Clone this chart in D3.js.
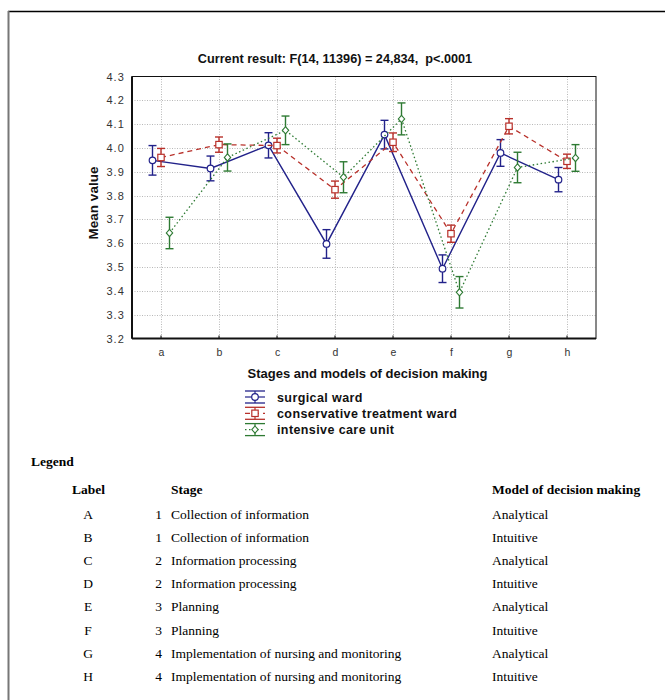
<!DOCTYPE html>
<html>
<head>
<meta charset="utf-8">
<script src="https://cdn.jsdelivr.net/npm/d3@7"></script>
<style>
  html, body { margin: 0; padding: 0; background: #fff; }
  svg { display: block; }
</style>
</head>
<body>
<svg id="chart" width="665" height="700"></svg>
<script>
// ---- data ----
const categories = ['a', 'b', 'c', 'd', 'e', 'f', 'g', 'h'];
const yTicks = [3.2, 3.3, 3.4, 3.5, 3.6, 3.7, 3.8, 3.9, 4.0, 4.1, 4.2, 4.3];
const surgical = [3.948, 3.914, 4.011, 3.597, 4.056, 3.493, 3.979, 3.867];
const surgicalErr = [0.062, 0.052, 0.053, 0.060, 0.060, 0.058, 0.056, 0.051];
const conservative = [3.960, 4.014, 4.010, 3.825, 4.024, 3.640, 4.091, 3.944];
const conservativeErr = [0.038, 0.032, 0.031, 0.036, 0.039, 0.036, 0.032, 0.030];
const icu = [3.643, 3.960, 4.074, 3.877, 4.122, 3.394, 3.918, 3.958];
const icuErr = [0.066, 0.057, 0.060, 0.065, 0.067, 0.066, 0.064, 0.056];
const seriesNames = ['surgical ward', 'conservative treatment ward', 'intensive care unit'];

const tableLabels = ['A', 'B', 'C', 'D', 'E', 'F', 'G', 'H'];
const tableStageNo = ['1', '1', '2', '2', '3', '3', '4', '4'];
const tableStage = ['Collection of information', 'Collection of information',
  'Information processing', 'Information processing', 'Planning', 'Planning',
  'Implementation of nursing and monitoring', 'Implementation of nursing and monitoring'];
const tableModel = ['Analytical', 'Intuitive', 'Analytical', 'Intuitive',
  'Analytical', 'Intuitive', 'Analytical', 'Intuitive'];

// ---- setup ----
const svg = d3.select('#chart');
const sans = 'Arial, "Liberation Sans", Helvetica, sans-serif';
const serif = '"Times New Roman", "Liberation Serif", Times, serif';

// page frame
svg.append('line').attr('x1', 8).attr('x2', 665).attr('y1', 11.5).attr('y2', 11.5)
  .attr('stroke', '#000').attr('stroke-width', 1.5);
svg.append('line').attr('x1', 8.5).attr('x2', 8.5).attr('y1', 11).attr('y2', 700)
  .attr('stroke', '#777').attr('stroke-width', 2);

const plot = { left: 132, right: 596, top: 76.5, bottom: 338.5 };
const x = d3.scalePoint().domain(categories).range([plot.left, plot.right]).padding(0.5);
const y = d3.scaleLinear().domain([3.2, 4.3]).range([plot.bottom, plot.top]);

// grid
const grid = svg.append('g');
grid.selectAll('line.h').data(yTicks.slice(1, -1)).join('line')
  .attr('x1', plot.left).attr('x2', plot.right)
  .attr('y1', d => Math.round(y(d)) + 0.5).attr('y2', d => Math.round(y(d)) + 0.5)
  .attr('stroke', '#b8b8b8').attr('stroke-width', 1).attr('stroke-dasharray', '1,1.5');
grid.selectAll('line.v').data(categories).join('line')
  .attr('x1', d => Math.round(x(d)) + 0.5).attr('x2', d => Math.round(x(d)) + 0.5)
  .attr('y1', plot.top).attr('y2', plot.bottom)
  .attr('stroke', '#b8b8b8').attr('stroke-width', 1).attr('stroke-dasharray', '1,1.5');

// axes
const yAxis = d3.axisLeft(y).tickValues(yTicks).tickFormat(d3.format('.1f')).tickSize(0).tickPadding(7);
const gy = svg.append('g').attr('transform', `translate(${plot.left},0)`).call(yAxis);
gy.select('.domain').remove();
gy.selectAll('text').attr('font-family', sans).attr('font-size', 11).attr('letter-spacing', 1.1).attr('fill', '#333');

const xAxis = d3.axisBottom(x).tickSize(0).tickPadding(10);
const gx = svg.append('g').attr('transform', `translate(0,${plot.bottom})`).call(xAxis);
gx.select('.domain').remove();
gx.selectAll('text').attr('font-family', sans).attr('font-size', 10.5).attr('fill', '#333');

// small ticks inside
svg.append('g').selectAll('line').data(categories).join('line')
  .attr('x1', d => x(d)).attr('x2', d => x(d))
  .attr('y1', plot.bottom).attr('y2', plot.bottom - 3)
  .attr('stroke', '#000');

// plot border
svg.append('rect').attr('x', plot.left).attr('y', plot.top)
  .attr('width', plot.right - plot.left).attr('height', plot.bottom - plot.top)
  .attr('fill', 'none').attr('stroke', '#111').attr('stroke-width', 1);
svg.append('line').attr('x1', plot.left).attr('x2', plot.left).attr('y1', plot.top).attr('y2', plot.bottom)
  .attr('stroke', '#111').attr('stroke-width', 2);
svg.append('line').attr('x1', plot.left).attr('x2', plot.right).attr('y1', plot.bottom).attr('y2', plot.bottom)
  .attr('stroke', '#111').attr('stroke-width', 2);

// series
const series = [
  { name: seriesNames[0], values: surgical, err: surgicalErr, color: '#22228a', dash: null, marker: 'circle', off: -8.5, width: 1.4 },
  { name: seriesNames[1], values: conservative, err: conservativeErr, color: '#b8302a', dash: '5,4', marker: 'square', off: 0, width: 1.3 },
  { name: seriesNames[2], values: icu, err: icuErr, color: '#2e7a33', dash: '1.5,2.5', marker: 'diamond', off: 8.5, width: 1.3 }
];

function drawMarker(g, type, cx, cy, color) {
  if (type === 'circle') {
    g.append('circle').attr('cx', cx).attr('cy', cy).attr('r', 3.3)
      .attr('fill', '#fff').attr('stroke', color).attr('stroke-width', 1.2);
  } else if (type === 'square') {
    g.append('rect').attr('x', cx - 3.2).attr('y', cy - 3.2).attr('width', 6.4).attr('height', 6.4)
      .attr('fill', '#fff').attr('stroke', color).attr('stroke-width', 1.2);
  } else {
    g.append('path').attr('d', `M${cx},${cy - 3.6}L${cx + 3.2},${cy}L${cx},${cy + 3.6}L${cx - 3.2},${cy}Z`)
      .attr('fill', '#fff').attr('stroke', color).attr('stroke-width', 1.1);
  }
}

series.forEach(s => {
  const g = svg.append('g');
  const pts = categories.map((c, i) => [x(c) + s.off, y(s.values[i])]);
  g.append('path').attr('d', d3.line()(pts)).attr('fill', 'none')
    .attr('stroke', s.color).attr('stroke-width', s.width)
    .attr('stroke-dasharray', s.dash);
  categories.forEach((c, i) => {
    const cx = x(c) + s.off;
    const y1 = y(s.values[i] + s.err[i]), y2 = y(s.values[i] - s.err[i]);
    g.append('line').attr('x1', cx).attr('x2', cx).attr('y1', y1).attr('y2', y2)
      .attr('stroke', s.color).attr('stroke-width', 1.4);
    [y1, y2].forEach(yy => g.append('line').attr('x1', cx - 4).attr('x2', cx + 4)
      .attr('y1', yy).attr('y2', yy).attr('stroke', s.color).attr('stroke-width', 1.4));
  });
  categories.forEach((c, i) => drawMarker(g, s.marker, x(c) + s.off, y(s.values[i]), s.color));
});

// title and axis titles
svg.append('text').attr('x', 335).attr('y', 63).attr('text-anchor', 'middle')
  .attr('font-family', sans).attr('font-size', 12.7).attr('font-weight', 'bold').attr('fill', '#111')
  .attr('xml:space', 'preserve')
  .text('Current result: F(14, 11396) = 24,834,  p<.0001');
svg.append('text').attr('transform', 'translate(98,203) rotate(-90)').attr('text-anchor', 'middle')
  .attr('font-family', sans).attr('font-size', 13.5).attr('font-weight', 'bold').attr('fill', '#111')
  .text('Mean value');
svg.append('text').attr('x', 367.5).attr('y', 378).attr('text-anchor', 'middle')
  .attr('font-family', sans).attr('font-size', 13).attr('font-weight', 'bold').attr('fill', '#111')
  .text('Stages and models of decision making');

// legend
const lg = svg.append('g');
series.forEach((s, i) => {
  const ly = 397 + i * 16.3;
  const lx0 = 245, lx1 = 265, lc = 255;
  lg.append('line').attr('x1', lx0).attr('x2', lx1).attr('y1', ly - 6).attr('y2', ly - 6)
    .attr('stroke', s.color).attr('stroke-width', 1.3);
  lg.append('line').attr('x1', lx0).attr('x2', lx1).attr('y1', ly + 6).attr('y2', ly + 6)
    .attr('stroke', s.color).attr('stroke-width', 1.3);
  lg.append('line').attr('x1', lc).attr('x2', lc).attr('y1', ly - 6).attr('y2', ly + 6)
    .attr('stroke', s.color).attr('stroke-width', 1.2);
  lg.append('line').attr('x1', lx0).attr('x2', lx1).attr('y1', ly).attr('y2', ly)
    .attr('stroke', s.color).attr('stroke-width', 1.2).attr('stroke-dasharray', s.dash);
  drawMarker(lg, s.marker, lc, ly, s.color);
  lg.append('text').attr('x', 277).attr('y', ly + 4.5).attr('font-family', sans)
    .attr('font-size', 12.5).attr('letter-spacing', 0.4).attr('font-weight', 'bold').attr('fill', '#111').text(s.name);
});

// table
const tb = svg.append('g').attr('font-family', serif).attr('fill', '#000');
tb.append('text').attr('x', 31).attr('y', 466).attr('font-size', 13.5).attr('font-weight', 'bold').text('Legend');
tb.append('text').attr('x', 72).attr('y', 494).attr('font-size', 13.5).attr('font-weight', 'bold').text('Label');
tb.append('text').attr('x', 171).attr('y', 494).attr('font-size', 13.5).attr('font-weight', 'bold').text('Stage');
tb.append('text').attr('x', 492).attr('y', 494).attr('font-size', 13.5).attr('font-weight', 'bold').text('Model of decision making');
tableLabels.forEach((l, i) => {
  const ry = 518.5 + i * 23.2;
  tb.append('text').attr('x', 88).attr('y', ry).attr('text-anchor', 'middle').attr('font-size', 13.5).text(l);
  tb.append('text').attr('x', 162).attr('y', ry).attr('text-anchor', 'end').attr('font-size', 13.5).text(tableStageNo[i]);
  tb.append('text').attr('x', 171).attr('y', ry).attr('font-size', 13.5).text(tableStage[i]);
  tb.append('text').attr('x', 492).attr('y', ry).attr('font-size', 13.5).text(tableModel[i]);
});
</script>
</body>
</html>
